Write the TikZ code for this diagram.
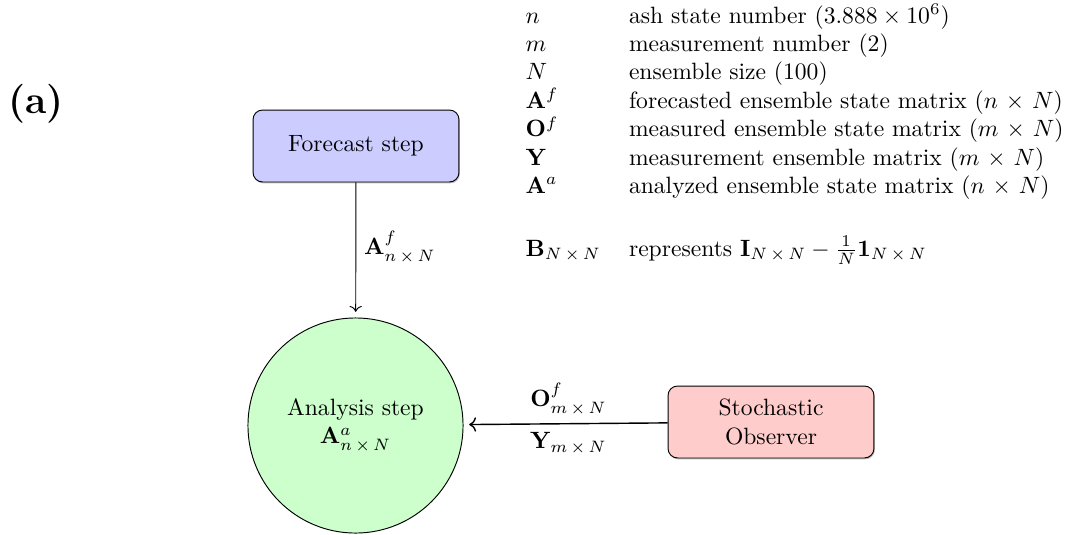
\documentclass[tikz,border=0pt]{standalone}
\usepackage{amsmath}
\usepackage{xcolor}
\definecolor{FcBlue}{HTML}{CCCCFF}
\definecolor{ObsRed}{HTML}{FFCCCC}
\definecolor{AnaGreen}{HTML}{CCFFCC}
\usepackage{tikz}
\usetikzlibrary{positioning,calc,arrows.meta,shadows}
\newcommand{\mxn}[2]{#1\,\times\,#2}

\begin{document}
\begin{tikzpicture}[x=0.424pt,y=-0.424pt,
 stepbox/.style={rectangle,rounded corners,draw,minimum width=87.3pt,minimum height=30.5pt,align=center,
  drop shadow={shadow xshift=0.4pt,shadow yshift=-0.6pt,opacity=0.5}},
 anabox/.style={circle,draw,fill=AnaGreen,minimum size=91.2pt,inner sep=0pt,outer sep=2.6pt,align=center}]
\useasboundingbox (0,0) rectangle (1078,534);
\node[font=\fontsize{16.5}{19}\selectfont\bfseries] (tag) at (36,103.5) {(a)};
\node[stepbox,fill=FcBlue] (fc) at (356,146) {Forecast step};
\node[anabox] (ana) at (355.5,425.5) {Analysis step\\$\mathbf{A}^a_{\mxn{n}{N}}$};
\node[stepbox,fill=ObsRed] (obs) at (771,422) {Stochastic\\Observer};
\draw[->] (fc) -- node[right] {$\mathbf{A}^f_{\mxn{n}{N}}$} (ana);
\draw[->,semithick] (obs) -- node[above] {$\mathbf{O}^f_{\mxn{m}{N}}$}
 node[below] {$\mathbf{Y}_{\mxn{m}{N}}$} (ana);
% symbols
\node[anchor=north west,inner sep=0pt] (legend) at (511,3) {%
\begin{tabular}{ll}
$n$ & ash state number ($3.888\times10^6$)\\
$m$ & measurement number (2)\\
$N$ & ensemble size (100)\\
$\mathbf{A}^f$ & forecasted ensemble state matrix ($n$ $\times$ $N$)\\
$\mathbf{O}^f$ & measured ensemble state matrix ($m$ $\times$ $N$)\\
$\mathbf{Y}$ & measurement ensemble matrix ($m$ $\times$ $N$)\\
$\mathbf{A}^a$ & analyzed ensemble state matrix ($n$ $\times$ $N$)\\
 & \\[2.5pt]
$\mathbf{B}_{\mxn{N}{N}}$ & represents $\mathbf{I}_{\mxn{N}{N}}-\frac{1}{N}\mathbf{1}_{\mxn{N}{N}}$
\end{tabular}};
\end{tikzpicture}
\end{document}
